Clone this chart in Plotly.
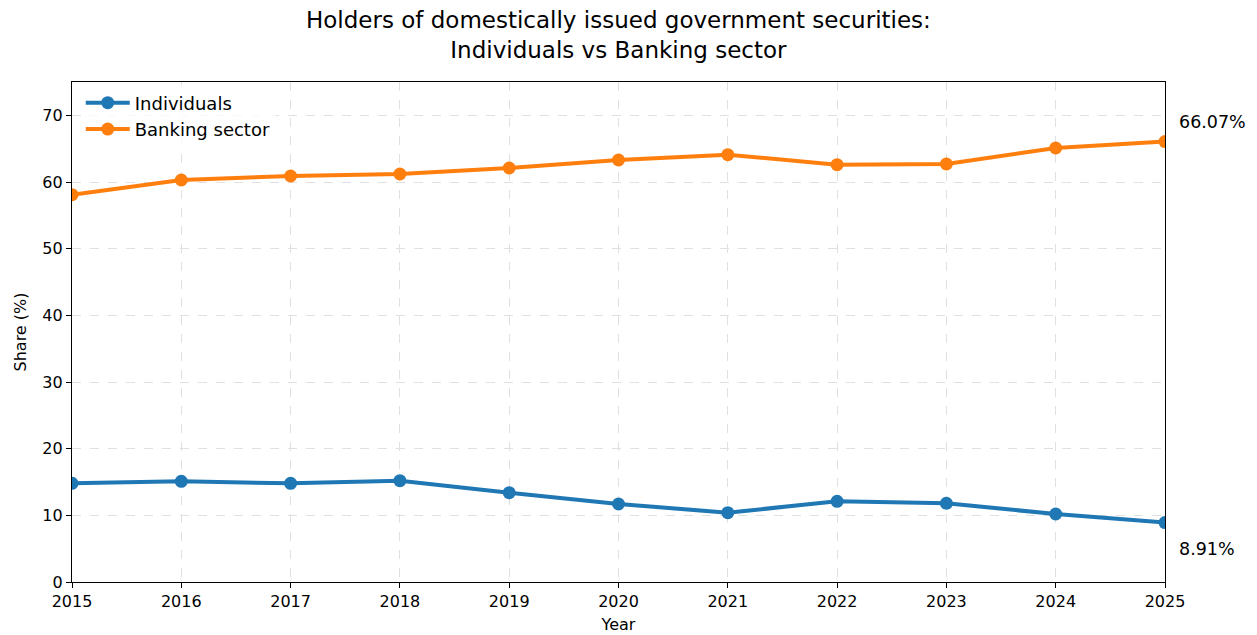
import plotly.graph_objects as go

years = [2015, 2016, 2017, 2018, 2019, 2020, 2021, 2022, 2023, 2024, 2025]
individuals = [14.8, 15.1, 14.8, 15.2, 13.4, 11.7, 10.4, 12.1, 11.8, 10.2, 8.91]
banking = [58.1, 60.3, 60.9, 61.2, 62.1, 63.3, 64.1, 62.6, 62.7, 65.1, 66.07]
y_ticks = [0, 10, 20, 30, 40, 50, 60, 70]

BLUE = "#1f77b4"
ORANGE = "#ff7f0e"
FONT = "DejaVu Sans"

fig = go.Figure()
fig.add_trace(go.Scatter(x=years, y=individuals, mode="lines+markers", name="Individuals",
                         line=dict(color=BLUE, width=4), marker=dict(size=13, color=BLUE)))
fig.add_trace(go.Scatter(x=years, y=banking, mode="lines+markers", name="Banking sector",
                         line=dict(color=ORANGE, width=4), marker=dict(size=13, color=ORANGE)))

for val, yshift in [(banking[-1], 20), (individuals[-1], -26)]:
    fig.add_annotation(x=years[-1], y=val, text=f"{val:.2f}%", showarrow=False,
                       xanchor="left", xshift=12, yshift=yshift,
                       font=dict(family=FONT, size=17.5, color="black"))

fig.add_annotation(xref="paper", yref="paper", x=0.5, y=1.094, xanchor="center", yanchor="middle",
                   showarrow=False,
                   text="Holders of domestically issued government securities:<br>Individuals vs Banking sector",
                   font=dict(family=FONT, size=23, color="black"))

axis_common = dict(showline=True, linecolor="black", linewidth=1.3, mirror=True,
                   ticks="outside", ticklen=5, tickcolor="black", automargin=False,
                   showgrid=True, gridcolor="#e0e0e0", griddash="dash", gridwidth=1,
                   zeroline=False, tickfont=dict(family=FONT, size=16, color="black"))

fig.update_xaxes(range=[2015, 2025], tickvals=years,
                 title=dict(text="Year", font=dict(family=FONT, size=16, color="black"), standoff=8),
                 **axis_common)
fig.update_yaxes(range=[0, 75], tickvals=y_ticks,
                 title=dict(text="Share (%)", font=dict(family=FONT, size=16, color="black"), standoff=11),
                 **axis_common)

fig.update_layout(
    width=1249, height=627,
    paper_bgcolor="white", plot_bgcolor="white",
    margin=dict(l=64, r=92, t=74, b=53),
    legend=dict(x=0.008, y=0.995, xanchor="left", yanchor="top", bgcolor="rgba(255,255,255,0.8)",
                font=dict(family=FONT, size=18, color="black"), itemwidth=44),
    showlegend=True,
)

fig.write_html("out.html")
